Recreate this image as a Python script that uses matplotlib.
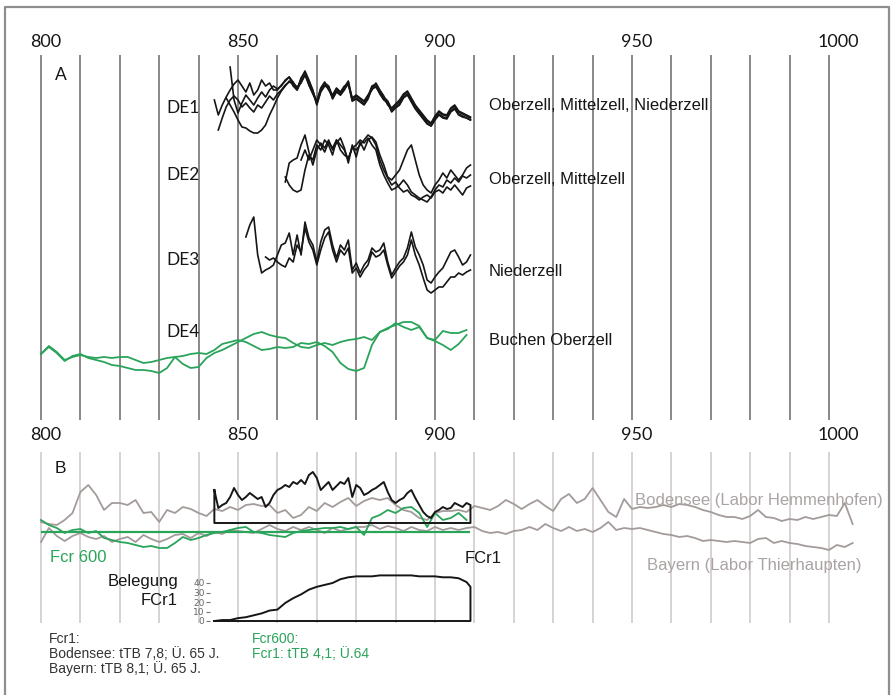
import numpy as np
import matplotlib.pyplot as plt

# pixel grid of the original figure: year 800 at x=41 px, 3.94 px per year
FIG_W, FIG_H = 895, 695
YEAR0, YEAR0_PX, PX_PER_YEAR = 800, 41, 3.94

DECADES = list(range(800, 1001, 10))
AXIS_LABELS = [800, 850, 900, 950, 1000]

# Panel A: ring-width curves (index units above each track's base line)
DE1_A_START = 844
DE1_A = [35, 20, 30, 38, 45, 51, 55, 49, 43, 52, 40, 45, 55, 49, 52, 45,
         45, 50, 54, 58, 49, 45, 57, 63, 50, 41, 34, 47, 53, 45, 40, 47, 43, 49, 50, 37,
         40, 37, 34, 40, 45, 52, 45, 39, 30, 27, 31, 35, 41, 44, 37, 30, 25, 20, 15, 12,
         19, 24, 21, 20, 27, 30, 24, 22, 20, 18]
DE1_B_START = 845
DE1_B = [5, 17, 28, 35, 39, 35, 28, 32, 27, 23, 30, 27, 33, 39, 35,
         41, 45, 50, 53, 52, 48, 52, 60, 54, 45, 30, 43, 49, 48, 36, 43, 40, 45, 53, 34,
         36, 33, 30, 36, 48, 49, 41, 35, 33, 23, 27, 30, 37, 40, 33, 26, 21, 16, 11, 9,
         15, 20, 17, 16, 23, 26, 20, 18, 17, 15]
DE1_C_START = 848
DE1_C = [68, 35, 22, 32, 40, 35, 30, 37, 43, 38, 45, 49,
         46, 49, 55, 58, 53, 46, 56, 64, 55, 44, 33, 46, 52, 49, 39, 46, 42, 48, 54, 36,
         39, 36, 33, 39, 49, 51, 44, 38, 34, 26, 30, 33, 40, 43, 36, 29, 24, 19, 14, 11,
         18, 23, 20, 19, 26, 29, 23, 21, 19, 17]
DE1_D_START = 847
DE1_D = [37, 30, 23, 15, 8, 7, 4, 2, 2, 5, 10, 20, 28, 37,
         44, 49, 54, 50, 45, 53, 60, 50, 42, 31, 44, 50, 46, 37, 44, 40, 46, 51, 34, 37,
         34, 31, 37, 46, 48, 42, 36, 31, 24, 28, 31, 38, 41, 34, 27, 22, 17, 12, 9, 16,
         21, 18, 17, 24, 27, 21, 19, 17, 15]

DE2_A_START = 862
DE2_A = [23, 42, 45, 47, 60, 70, 53, 40, 55, 62, 57, 65, 55, 62, 67, 57, 42, 60, 48, 63,
         55, 65, 68, 63, 50, 40, 28, 25, 30, 35, 45, 55, 60, 45, 30, 20, 15, 12, 20, 25,
         32, 27, 35, 30, 25, 30, 37, 40]
DE2_B_START = 862
DE2_B = [28, 20, 15, 13, 15, 35, 50, 45, 60, 55, 65, 60, 50, 65, 60, 55, 45, 58, 55, 60,
         65, 70, 67, 60, 45, 35, 27, 20, 23, 17, 13, 15, 10, 8, 5, 8, 10, 7, 13, 15,
         12, 18, 15, 20, 15, 10, 17, 19]
DE2_C_START = 866
DE2_C = [45, 55, 45, 55, 65, 60, 53, 63, 57, 65, 55, 50, 47, 57, 60, 65, 62, 67, 60, 55,
         40, 30, 22, 15, 17, 20, 25, 20, 13, 10, 7, 5, 3, 8, 15, 20, 18, 25, 22, 27,
         23, 29, 27, 30]

DE3_A_START = 852
DE3_A = [63, 75, 83, 45, 27, 30, 32, 35, 45, 55, 57, 67, 45, 65, 45, 78, 62, 55, 38, 58,
         70, 73, 55, 42, 55, 50, 60, 30, 37, 27, 35, 40, 52, 48, 50, 57, 38, 25, 32, 38,
         42, 52, 68, 53, 45, 35, 20, 17, 23, 28, 32, 40, 48, 50, 43, 35, 38, 45]
DE3_B_START = 857
DE3_B = [43, 40, 42, 38, 35, 33, 42, 38, 55, 48, 72, 58, 50, 35, 50, 62, 68, 50, 38, 50,
         45, 52, 27, 32, 23, 30, 35, 48, 43, 45, 50, 35, 22, 28, 34, 38, 45, 60, 45, 35,
         22, 10, 7, 10, 13, 13, 18, 23, 23, 27, 25, 28, 30]

# DE4 (beech), one value every second year from 800
DE4_A = [26, 34, 28, 20, 23, 25, 23, 22, 23, 22, 23, 23, 20, 17, 18, 20, 22, 23, 24, 26,
         27, 26, 30, 36, 38, 40, 38, 34, 30, 31, 33, 32, 33, 37, 36, 38, 34, 28, 17, 11,
         9, 12, 35, 48, 52, 55, 58, 58, 54, 42, 39, 35, 30, 36, 45]
DE4_B = [26, 33, 27, 19, 24, 26, 22, 20, 18, 15, 14, 12, 10, 10, 9, 7, 12, 23, 16, 12,
         13, 22, 27, 30, 34, 38, 42, 46, 48, 45, 43, 42, 37, 33, 32, 35, 37, 35, 38, 40,
         41, 43, 40, 48, 51, 57, 53, 50, 53, 42, 40, 49, 47, 47, 50]

# Panel B: regional chronologies, every second year from 800
BODENSEE = [38, 36, 35, 40, 47, 68, 75, 65, 50, 57, 57, 55, 60, 47, 48, 38, 50, 47, 53, 51,
            47, 44, 51, 49, 53, 50, 55, 56, 54, 55, 47, 50, 42, 45, 53, 49, 57, 53, 58, 62,
            54, 59, 62, 60, 62, 55, 50, 48, 42, 40, 47, 49, 49, 50, 48, 54, 52, 50, 54, 60,
            56, 51, 56, 60, 54, 49, 61, 66, 57, 61, 72, 60, 48, 43, 61, 51, 53, 52, 53, 55,
            53, 56, 55, 53, 50, 48, 45, 43, 43, 41, 44, 50, 43, 42, 39, 41, 40, 43, 41, 43,
            45, 44, 57, 36]
BAYERN = [18, 32, 24, 19, 24, 27, 23, 21, 24, 18, 21, 23, 18, 25, 21, 18, 21, 25, 26, 22,
          27, 24, 28, 26, 30, 29, 28, 27, 31, 35, 31, 29, 33, 30, 33, 30, 27, 32, 29, 31,
          33, 33, 35, 31, 34, 32, 29, 33, 30, 29, 33, 30, 32, 30, 32, 33, 29, 27, 28, 26,
          29, 30, 33, 30, 36, 32, 29, 33, 29, 31, 28, 32, 38, 30, 32, 31, 32, 30, 28, 26,
          25, 23, 24, 22, 19, 20, 19, 18, 19, 18, 17, 21, 22, 17, 19, 17, 16, 14, 13, 12,
          10, 15, 13, 17]
FCR600 = [40, 35, 32, 27, 30, 31, 27, 29, 22, 20, 18, 17, 15, 13, 14, 12, 12, 17, 23, 20,
          22, 25, 27, 28, 30, 32, 33, 28, 27, 25, 24, 23, 27, 29, 30, 31, 32, 32, 33, 31,
          33, 25, 42, 45, 50, 47, 52, 53, 47, 33, 47, 40, 42, 47, 40]
FCR600_MEAN = 28
FCR1_START = 844
FCR1 = [70, 52, 55, 57, 63, 72, 65, 60, 63, 67, 64, 61, 63, 53, 57, 65, 70, 72, 75, 73,
        78, 76, 80, 76, 85, 88, 82, 70, 74, 78, 70, 74, 78, 76, 82, 63, 75, 72, 65, 67,
        70, 72, 75, 78, 68, 60, 57, 60, 62, 67, 70, 62, 55, 48, 44, 42, 48, 50, 53, 51,
        52, 57, 55, 53, 57, 55]
FCR1_FLOOR = 37

# sample depth of FCr1
BELEGUNG_YEARS = list(range(844, 909, 2)) + [909]
BELEGUNG = [0, 1, 1, 3, 4, 6, 8, 11, 12, 19, 24, 28, 33, 36, 38, 40, 44, 46, 47, 47,
            47, 48, 48, 48, 48, 48, 47, 47, 47, 46, 46, 45, 41, 36]
BELEGUNG_TICKS = [0, 10, 20, 30, 40]

BLACK = "#161616"
GREEN = "#2aa45a"
GREY_LINE = "#a39b99"
GREY_TEXT = "#aba3a3"
CALIBRI_LIKE = "Lato"
ARIAL_LIKE = "Liberation Sans"


def year_at(px):
    return YEAR0 + (px - YEAR0_PX) / PX_PER_YEAR


def plot_track(ax, start, values, base, step=1, **kw):
    years = start + step * np.arange(len(values))
    ax.plot(years, base - np.asarray(values, float), **kw)


fig = plt.figure(figsize=(FIG_W / 100, FIG_H / 100), dpi=100)
ax = fig.add_axes([0, 0, 1, 1])
ax.set_xlim(year_at(0), year_at(FIG_W))
ax.set_ylim(FIG_H, 0)
ax.axis("off")

# frame
ax.plot([year_at(5), year_at(5), year_at(889), year_at(889)], [FIG_H, 7, 7, FIG_H],
        color="#8e8e8e", lw=1.6, clip_on=False)

# decade lines
ax.vlines(DECADES, 55, 420, color="#8c8686", lw=1.4, zorder=0)
ax.vlines(DECADES, 452, 623, color="#d3cbcb", lw=1.2, zorder=0)

for yr in AXIS_LABELS:
    for baseline in (47, 440):
        ax.text(yr - 11 / PX_PER_YEAR, baseline, str(yr), ha="left", va="baseline",
                fontsize=13, family=CALIBRI_LIKE, color=BLACK)

# panel A
ax.text(year_at(55), 80, "A", fontsize=12.5, family=CALIBRI_LIKE, color=BLACK, va="baseline")
line_kw = dict(color=BLACK, lw=1.2, solid_joinstyle="round")
for start, vals in [(DE1_A_START, DE1_A), (DE1_B_START, DE1_B),
                    (DE1_C_START, DE1_C), (DE1_D_START, DE1_D)]:
    plot_track(ax, start, vals, 135, **line_kw)
for start, vals in [(DE2_A_START, DE2_A), (DE2_B_START, DE2_B), (DE2_C_START, DE2_C)]:
    plot_track(ax, start, vals, 205, **line_kw)
for start, vals in [(DE3_A_START, DE3_A), (DE3_B_START, DE3_B)]:
    plot_track(ax, start, vals, 300, **line_kw)
for vals in (DE4_A, DE4_B):
    plot_track(ax, 800, vals, 380, step=2, color=GREEN, lw=1.3)

for label, baseline in [("DE1", 113), ("DE2", 180), ("DE3", 265), ("DE4", 337)]:
    ax.text(year_at(166), baseline, label, fontsize=12.5, family=CALIBRI_LIKE,
            color=BLACK, va="baseline")
for label, baseline in [("Oberzell, Mittelzell, Niederzell", 110),
                        ("Oberzell, Mittelzell", 184),
                        ("Niederzell", 276),
                        ("Buchen Oberzell", 345)]:
    ax.text(year_at(489), baseline, label, fontsize=12, family=ARIAL_LIKE,
            color=BLACK, va="baseline")

# panel B
ax.text(year_at(55), 473, "B", fontsize=12.5, family=ARIAL_LIKE, color=BLACK, va="baseline")
plot_track(ax, 800, BODENSEE, 560, step=2, color=GREY_LINE, lw=1.3)
plot_track(ax, 800, BAYERN, 560, step=2, color=GREY_LINE, lw=1.3)
ax.hlines(560 - FCR600_MEAN, 800, 909, color=GREEN, lw=1.6)
plot_track(ax, 800, FCR600, 560, step=2, color=GREEN, lw=1.3)

fcr1_years = FCR1_START + np.arange(len(FCR1))
outline_years = np.concatenate([fcr1_years, [fcr1_years[-1], fcr1_years[0], fcr1_years[0]]])
outline_vals = np.concatenate([FCR1, [FCR1_FLOOR, FCR1_FLOOR, FCR1[0]]])
ax.plot(outline_years, 560 - outline_vals, color=BLACK, lw=1.4)

ax.text(year_at(635), 505, "Bodensee (Labor Hemmenhofen)", fontsize=12,
        family=ARIAL_LIKE, color=GREY_TEXT, va="baseline")
ax.text(year_at(647), 570, "Bayern (Labor Thierhaupten)", fontsize=12,
        family=ARIAL_LIKE, color=GREY_TEXT, va="baseline")
ax.text(year_at(465), 563, "FCr1", fontsize=12, family=ARIAL_LIKE, color=BLACK, va="baseline")
ax.text(year_at(50), 562, "Fcr 600", fontsize=12, family=ARIAL_LIKE, color=GREEN, va="baseline")
ax.text(year_at(178), 586, "Belegung", fontsize=12, family=ARIAL_LIKE, color=BLACK,
        ha="right", va="baseline")
ax.text(year_at(178), 605, "FCr1", fontsize=12, family=ARIAL_LIKE, color=BLACK,
        ha="right", va="baseline")

for text, baseline in [("Fcr1:", 643), ("Bodensee: tTB 7,8; Ü. 65 J.", 658),
                       ("Bayern: tTB 8,1; Ü. 65 J.", 673)]:
    ax.text(year_at(49), baseline, text, fontsize=10, family=ARIAL_LIKE,
            color="#333333", va="baseline")
for text, baseline in [("Fcr600:", 643), ("Fcr1: tTB 4,1; Ü.64", 658)]:
    ax.text(year_at(252), baseline, text, fontsize=10, family=ARIAL_LIKE,
            color=GREEN, va="baseline")

# sample depth inset
inset_left, inset_right = 210, 472
ins = fig.add_axes([inset_left / FIG_W, (FIG_H - 621) / FIG_H,
                    (inset_right - inset_left) / FIG_W, 47.5 / FIG_H])
ins.set_xlim(year_at(inset_left), year_at(inset_right))
ins.set_ylim(0, 50)
ins.patch.set_alpha(0)
for spine in ins.spines.values():
    spine.set_visible(False)
ins.set_xticks([])
ins.set_yticks(BELEGUNG_TICKS)
ins.tick_params(axis="y", length=3, width=0.8, color="#777777", labelsize=6.5,
                labelcolor="#666666", pad=1)
depth_years = BELEGUNG_YEARS + [BELEGUNG_YEARS[-1], BELEGUNG_YEARS[0]]
depth_vals = BELEGUNG + [0, 0]
ins.plot(depth_years, depth_vals, color=BLACK, lw=1.4, clip_on=False)

fig.savefig("out.png", dpi=100)
